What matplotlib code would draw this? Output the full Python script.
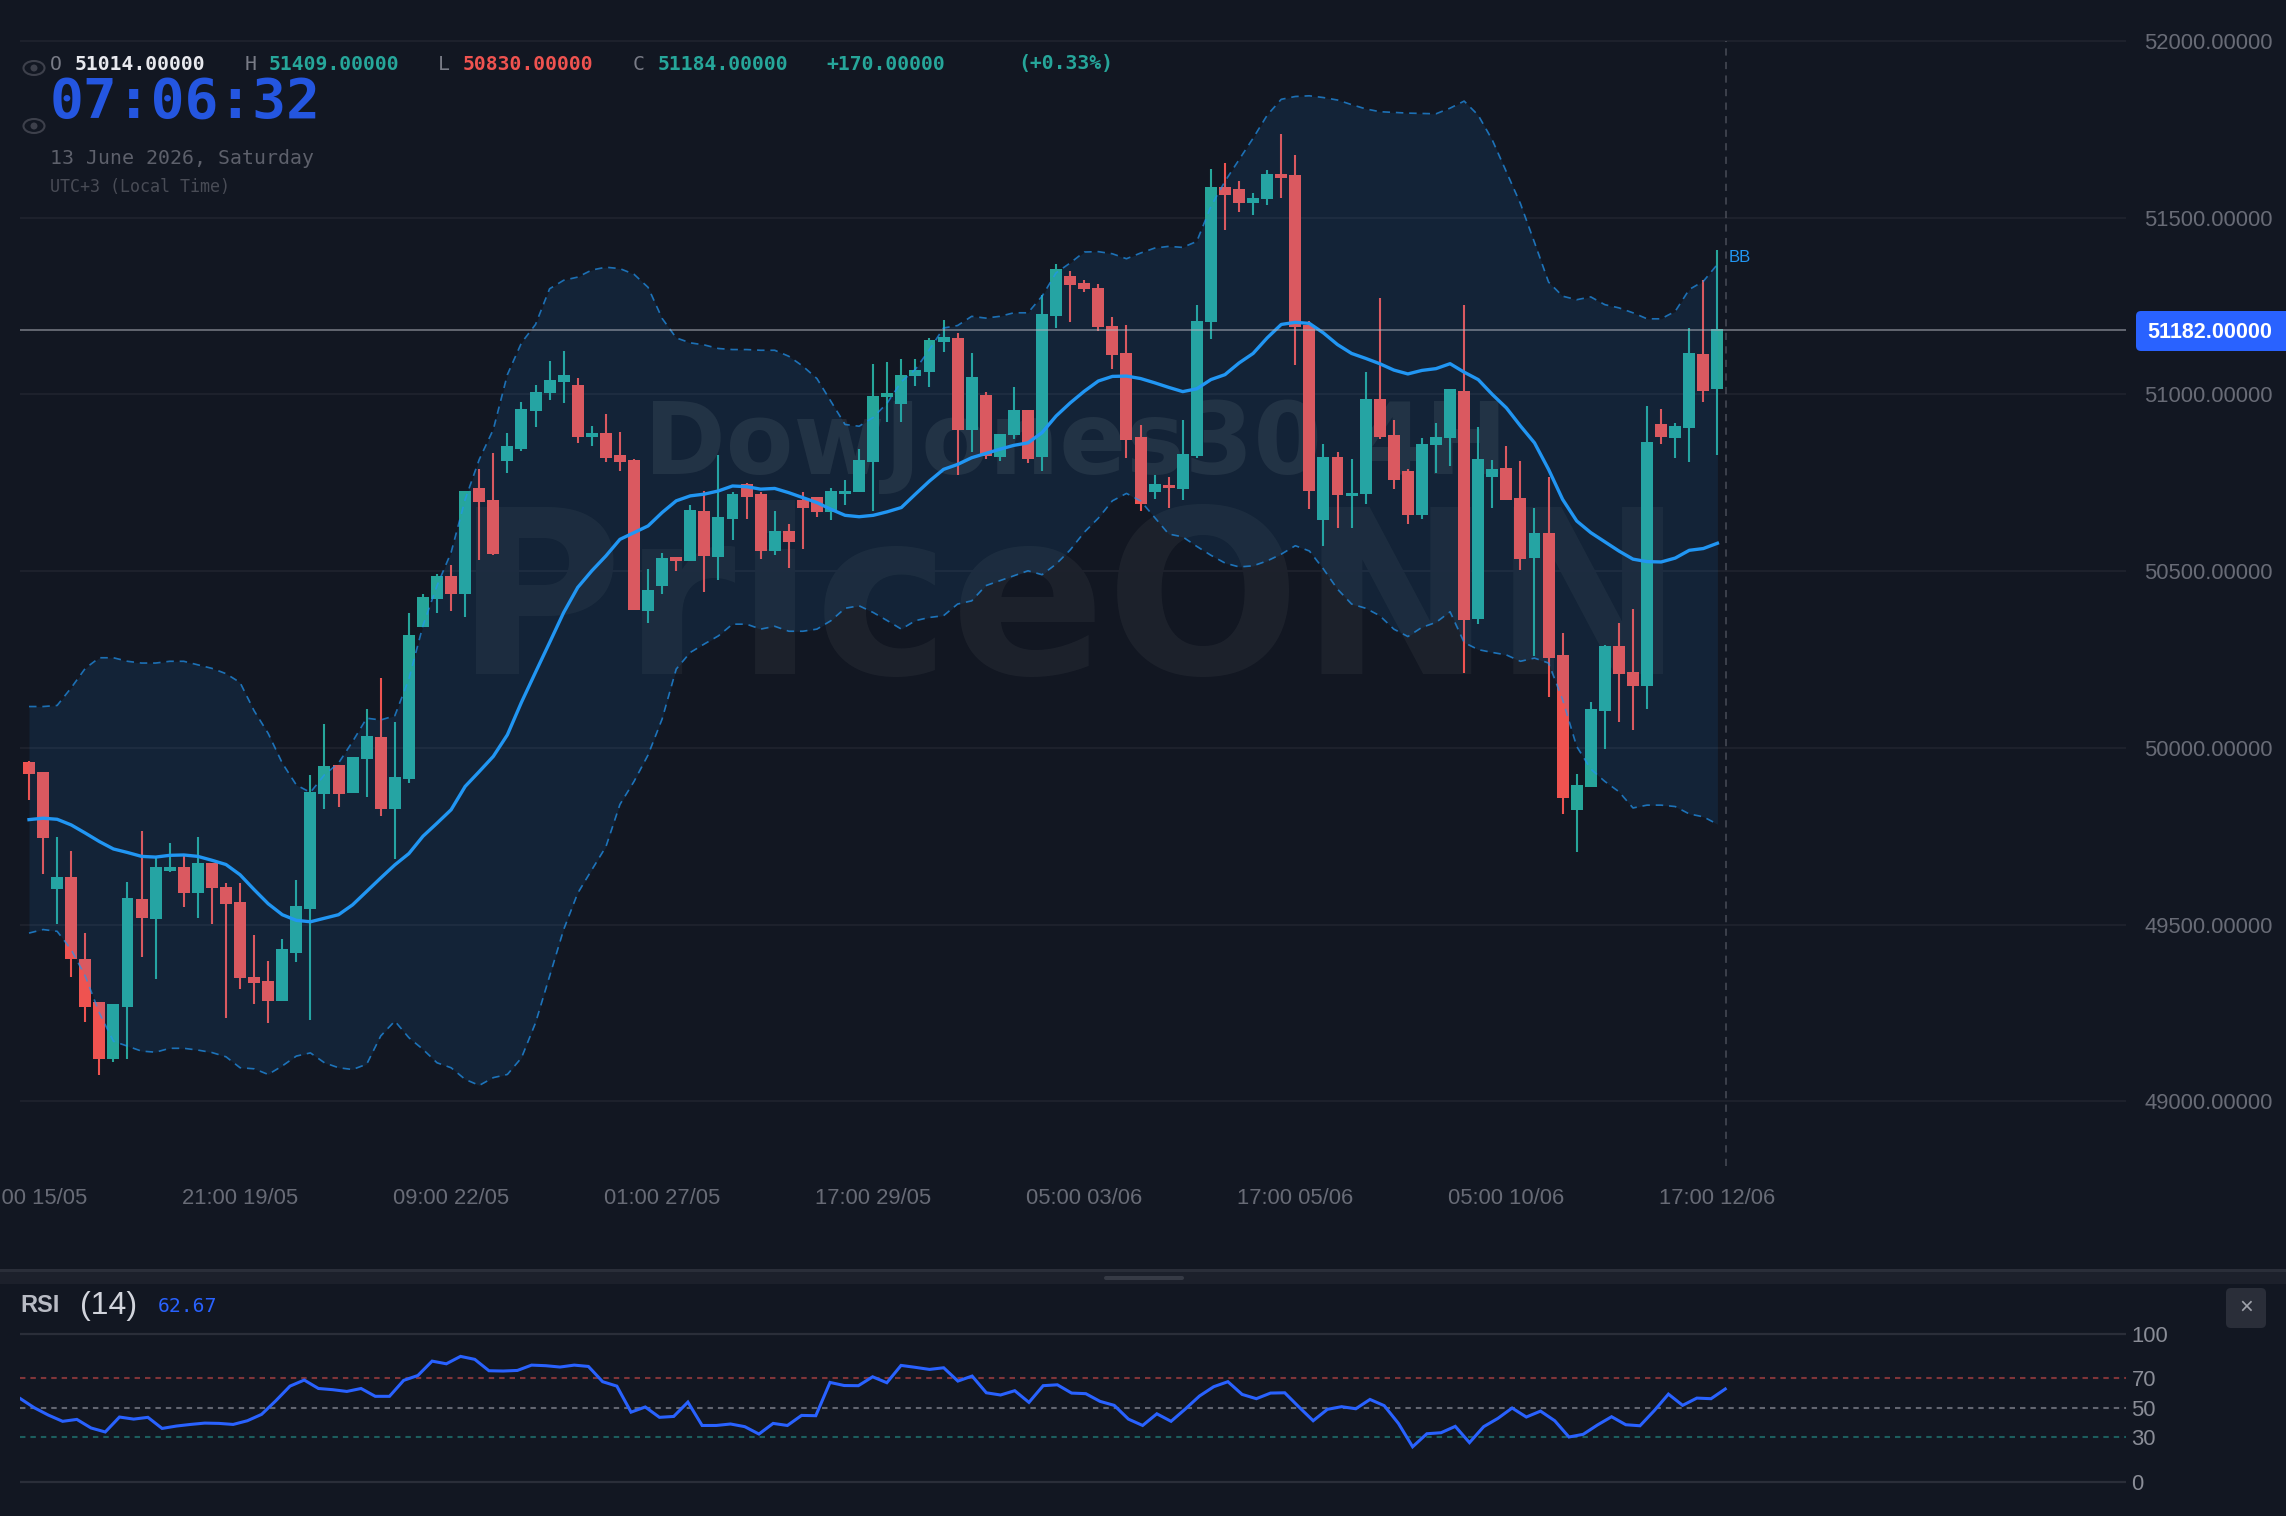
import matplotlib
matplotlib.use('Agg')
import numpy as np
import matplotlib.pyplot as plt
from matplotlib.patches import Ellipse, FancyBboxPatch, Rectangle

opens = [49959,49933,49602,49634,49403,49282,49120,49268,49572,49517,
         49652,49663,49589,49673,49607,49564,49351,49341,49283,49421,
         49545,49870,49952,49871,49968,50031,49828,49911,50343,50421,
         50485,50434,50734,50702,50811,50846,50954,51003,51036,51028,
         50879,50890,50828,50814,50388,50459,50540,50529,50671,50541,
         50647,50746,50718,50557,50613,50701,50711,50668,50718,50723,
         50809,50992,50973,51051,51063,51149,51161,50899,50997,50822,
         50884,50955,50823,51223,51336,51315,51301,51195,51118,50879,
         50723,50744,50733,50826,51204,51588,51580,51543,51552,51624,
         51622,51196,50644,50823,50712,50718,50988,50884,50782,50660,
         50856,50876,51011,50366,50766,50792,50708,50536,50607,50262,
         49823,49889,50104,50288,50216,50176,50916,50877,50905,51114,
         51014]
highs = [49964,49933,49747,49708,49476,49282,49274,49621,49766,49695,
         49730,49695,49749,49673,49618,49618,49470,49397,49460,49627,
         49924,50067,49952,49974,50111,50197,50072,50381,50434,50493,
         50517,50728,50788,50835,50890,50978,51027,51096,51124,51046,
         50911,50944,50895,50816,50506,50550,50540,50687,50728,50828,
         50725,50750,50723,50669,50634,50724,50711,50736,50757,50845,
         51087,51091,51099,51099,51159,51212,51174,51118,51008,50887,
         51022,50955,51281,51369,51350,51325,51312,51220,51197,50914,
         50773,50767,50929,51254,51637,51656,51604,51570,51636,51737,
         51678,51208,50859,50836,50816,51063,51273,50927,50788,50878,
         50920,51016,51254,50908,50815,50853,50811,50678,50766,50325,
         49926,50131,50292,50354,50394,50966,50960,50919,51187,51325,
         51409]
lows = [49853,49644,49501,49351,49224,49074,49112,49119,49408,49347,
        49648,49550,49518,49501,49237,49319,49275,49222,49283,49394,
        49230,49826,49832,49871,49861,49806,49686,49900,50343,50383,
        50388,50369,50532,50547,50779,50841,50907,50983,50976,50862,
        50854,50808,50783,50390,50353,50434,50501,50529,50441,50476,
        50588,50647,50534,50547,50510,50564,50654,50644,50686,50723,
        50670,50921,50923,51024,51021,51120,50771,50837,50818,50811,
        50873,50805,50782,51187,51206,51291,51179,51073,50820,50670,
        50705,50678,50700,50820,51156,51466,51516,51507,51536,51557,
        51083,50675,50572,50621,50621,50690,50873,50733,50633,50648,
        50778,50798,50211,50350,50679,50701,50504,50261,50144,49813,
        49706,49889,49998,50073,50050,50111,50859,50821,50810,50978,
        50830]
closes = [49927,49744,49634,49403,49268,49121,49274,49576,49520,49663,
          49663,49588,49674,49603,49557,49350,49334,49283,49431,49552,
          49874,49948,49870,49974,50034,49828,49919,50319,50427,50485,
          50434,50728,50695,50548,50853,50960,51008,51042,51055,50880,
          50891,50820,50809,50390,50446,50538,50528,50673,50542,50654,
          50718,50711,50558,50613,50582,50679,50668,50728,50728,50815,
          50996,51004,51056,51069,51153,51163,50899,51050,50826,50887,
          50956,50817,51228,51354,51309,51298,51190,51111,50872,50689,
          50746,50734,50832,51207,51588,51563,51542,51556,51624,51613,
          51192,50728,50822,50715,50722,50988,50880,50758,50659,50860,
          50880,51016,50363,50818,50789,50702,50534,50609,50254,49858,
          49894,50109,50289,50210,50175,50865,50879,50910,51118,51010,
          51184]

bb_upper = [50117,50117,50120,50170,50225,50255,50255,50245,50240,50240,
            50245,50245,50235,50225,50210,50185,50105,50041,49957,49895,
            49874,49924,49957,50018,50084,50079,50091,50195,50346,50459,
            50553,50703,50816,50901,51056,51146,51198,51299,51323,51332,
            51352,51360,51356,51340,51303,51215,51160,51146,51140,51130,
            51127,51127,51125,51125,51108,51080,51045,50980,50915,50910,
            50935,50976,51036,51071,51127,51188,51195,51221,51216,51221,
            51231,51231,51278,51344,51372,51403,51404,51398,51384,51400,
            51414,51419,51416,51433,51532,51603,51664,51725,51790,51835,
            51843,51845,51840,51833,51820,51808,51800,51798,51796,51795,
            51794,51810,51830,51790,51720,51630,51540,51430,51318,51278,
            51268,51276,51254,51245,51231,51214,51214,51235,51297,51320,
            51368]
bb_mid = [49797,49801,49798,49782,49759,49735,49714,49704,49693,49691,
          49696,49697,49693,49682,49670,49641,49599,49559,49528,49512,
          49508,49518,49528,49556,49594,49632,49669,49701,49750,49787,
          49825,49891,49933,49976,50037,50129,50214,50298,50383,50454,
          50501,50543,50590,50609,50628,50666,50699,50713,50718,50727,
          50741,50739,50732,50734,50722,50708,50694,50675,50658,50654,
          50658,50668,50680,50718,50755,50788,50802,50821,50833,50845,
          50856,50863,50892,50939,50976,51009,51038,51051,51052,51045,
          51033,51020,51008,51016,51042,51056,51089,51116,51160,51198,
          51204,51201,51174,51141,51116,51102,51087,51069,51058,51068,
          51073,51087,51063,51042,51000,50962,50911,50863,50788,50703,
          50642,50609,50583,50557,50534,50527,50526,50537,50559,50564,
          50579]
bb_lower = [49476,49486,49481,49429,49354,49250,49170,49156,49142,49139,
            49150,49150,49145,49138,49126,49095,49092,49076,49100,49128,
            49137,49109,49095,49090,49105,49185,49227,49180,49147,49109,
            49095,49062,49045,49067,49076,49123,49222,49354,49486,49589,
            49655,49720,49840,49905,49980,50082,50223,50270,50294,50317,
            50350,50350,50336,50344,50330,50330,50336,50360,50395,50402,
            50383,50360,50336,50360,50369,50374,50407,50416,50459,50473,
            50487,50501,50490,50520,50560,50610,50650,50699,50720,50699,
            50652,50605,50597,50570,50545,50523,50512,50515,50529,50548,
            50572,50557,50506,50449,50407,50395,50374,50336,50315,50341,
            50355,50385,50298,50278,50270,50263,50245,50254,50240,50136,
            50004,49940,49905,49876,49830,49838,49838,49834,49813,49805,
            49784]

rsi = [56.3,50.0,45.0,40.8,42.1,36.3,33.6,43.7,42.3,43.5,
       36.0,37.6,38.7,39.6,39.4,38.7,41.2,45.5,54.7,64.6,
       68.7,63.0,62.2,61.0,63.0,57.7,57.7,68.5,71.8,81.5,
       79.7,84.7,82.7,75.0,74.8,75.2,78.8,78.4,77.5,78.8,
       77.9,67.6,64.6,47.0,50.5,43.5,44.1,53.8,38.0,38.0,
       39.0,37.2,32.2,39.4,38.0,44.8,44.6,67.1,65.0,64.9,
       70.9,66.9,78.6,77.3,75.9,77.0,68.0,71.4,60.1,58.6,
       61.5,53.6,64.9,65.5,59.9,59.5,54.3,51.6,42.3,38.0,
       45.9,40.8,49.1,57.9,64.2,67.6,59.0,56.1,59.9,60.1,
       50.5,41.2,48.9,50.7,49.3,55.6,51.4,39.4,23.6,32.4,
       33.1,37.4,26.4,37.2,42.8,49.8,43.7,47.7,41.2,30.2,
       32.0,38.3,43.9,38.5,37.8,48.0,59.2,51.6,56.5,56.1,
       62.67]

price_ticks = [49000,49500,50000,50500,51000,51500,52000]
time_idx = [0,15,30,45,60,75,90,105,120]
time_labels = ['17:00 15/05','21:00 19/05','09:00 22/05','01:00 27/05','17:00 29/05',
               '05:00 03/06','17:00 05/06','05:00 10/06','17:00 12/06']
rsi_ticks = [0,30,50,70,100]
last_price = 51182
crosshair_idx = 120.6

BG = '#121722'
GRID = '#1e222d'
UP = '#26a69a'
DOWN = '#ef5350'
BLUE = '#2962ff'
BB = '#2196f3'
TICK = '#787b86'
SANS = 'Liberation Sans'
MONO = 'DejaVu Sans Mono'
W, H = 2286, 1516

fig = plt.figure(figsize=(W/100, H/100), dpi=100, facecolor=BG)


def pixel_axes(left, top, width, height, **kw):
    # axes placed by pixel box, top-left origin
    return fig.add_axes([left/W, 1-(top+height)/H, width/W, height/H], **kw)


# full-size layers for the watermark and for the window furniture
back = pixel_axes(0, 0, W, H, zorder=0)
back.set_xlim(0, W)
back.set_ylim(H, 0)
back.axis('off')
back.text(644, 474, 'DowJones30 4H', color='white', alpha=0.075, fontsize=71, fontweight='bold',
          family='DejaVu Sans', ha='left', va='baseline')
back.text(455, 674, 'PriceONN', color='white', alpha=0.045, fontsize=165, fontweight='bold',
          family='DejaVu Sans', ha='left', va='baseline')

# price pane
ax = pixel_axes(20, 0, 2106, 1166, zorder=1)
ax.patch.set_alpha(0)
ax.set_xlim(-0.64, 149.04)
ax.set_ylim(48817, 52116)

idx = np.arange(len(closes))
o = np.array(opens)
c = np.array(closes)
colors = [UP if c[i] >= o[i] else DOWN for i in idx]
ax.vlines(idx, lows, highs, colors=colors, lw=1.5, zorder=2)
ax.bar(idx, np.maximum(c, o)-np.minimum(c, o), bottom=np.minimum(c, o), width=0.85, color=colors, zorder=2)

ax.fill_between(idx, bb_lower, bb_upper, color=BB, alpha=0.1, lw=0, zorder=3)
ax.plot(idx, bb_upper, color=BB, alpha=0.7, lw=1.2, dashes=(4.5, 3.5), zorder=4)
ax.plot(idx, bb_lower, color=BB, alpha=0.7, lw=1.2, dashes=(4.5, 3.5), zorder=4)
ax.plot(idx, bb_mid, color=BB, lw=2.4, zorder=5)
ax.text(120.8, 51388, 'BB', color=BB, fontsize=12, family=SANS, va='center', ha='left', zorder=6)

ax.axhline(last_price, color='#b2b5be', alpha=0.5, lw=1.4, zorder=6)
ax.vlines(crosshair_idx, 48817, 52000, color='#787b86', alpha=0.45, lw=1.3, linestyles=(0, (4, 3.5)), zorder=6)

ax.set_yticks(price_ticks)
ax.set_yticklabels(['%.5f' % p for p in price_ticks])
ax.yaxis.tick_right()
ax.set_xticks(time_idx)
ax.set_xticklabels(time_labels)
ax.tick_params(axis='y', length=0, pad=13, labelsize=15.8, labelcolor=TICK)
ax.tick_params(axis='x', length=0, pad=16, labelsize=15.8, labelcolor=TICK)
for t in ax.get_xticklabels()+ax.get_yticklabels():
    t.set_family(SANS)
    t.set_alpha(0.85)
ax.grid(axis='y', color=GRID, lw=1.4, zorder=1)
ax.set_axisbelow(True)
for s in ax.spines.values():
    s.set_visible(False)

# RSI pane
ax2 = pixel_axes(20, 1320, 2106, 196, zorder=1)
ax2.patch.set_alpha(0)
ax2.set_xlim(0, 148.2)
ax2.set_ylim(-23.2, 109.3)
ax2.axhline(100, color='#2a2e39', lw=1.6)
ax2.axhline(0, color='#2a2e39', lw=1.6)
ax2.axhline(70, color=DOWN, alpha=0.5, lw=1.5, linestyle=(0, (2.6, 2.4)))
ax2.axhline(50, color=TICK, alpha=0.8, lw=1.5, linestyle=(0, (2.6, 2.4)))
ax2.axhline(30, color=UP, alpha=0.5, lw=1.5, linestyle=(0, (2.6, 2.4)))
ax2.plot(idx, rsi, color=BLUE, lw=2.2, solid_joinstyle='miter')
ax2.set_yticks(rsi_ticks)
ax2.set_yticklabels([str(v) for v in rsi_ticks])
ax2.yaxis.tick_right()
ax2.set_xticks([])
ax2.tick_params(axis='y', length=0, pad=4, labelsize=15.8, labelcolor='#8a8d97')
for t in ax2.get_yticklabels():
    t.set_family(SANS)
for s in ax2.spines.values():
    s.set_visible(False)

# overlay: legend header, price badge, pane divider, close button
front = pixel_axes(0, 0, W, H, zorder=5)
front.set_xlim(0, W)
front.set_ylim(H, 0)
front.axis('off')

header = [(50, 'O', TICK), (75, '51014.00000', '#e8e9ee'),
          (245, 'H', TICK), (269, '51409.00000', UP),
          (438, 'L', TICK), (463, '50830.00000', DOWN),
          (633, 'C', TICK), (658, '51184.00000', UP),
          (826, '+170.00000', UP), (1018, '(+0.33%)', UP)]
for x, s, col in header:
    front.text(x, 64, s, color=col, fontsize=14.2, family=MONO, va='center', ha='left',
               fontweight='normal' if len(s) == 1 else 'bold')
front.text(50, 102, '07:06:32', color='#2456e0', fontsize=40.5, family=MONO, fontweight='bold', va='center', ha='left')
front.text(50, 158, '13 June 2026, Saturday', color='#5d606b', fontsize=14.3, family=MONO, va='center', ha='left')
front.text(50, 187, 'UTC+3 (Local Time)', color='#494c56', fontsize=12, family=MONO, va='center', ha='left')

for y in (68, 126):
    front.add_patch(Ellipse((34, y), 21, 14, fc='none', ec='#3d404b', lw=1.5))
    front.add_patch(Ellipse((34, y), 7, 7, fc='#3d404b', ec='none'))

front.add_patch(FancyBboxPatch((2136, 311), 165, 40, boxstyle='round,pad=0,rounding_size=5',
                               fc=BLUE, ec='none'))
front.text(2147, 332, '%.5f' % last_price, color='white', fontsize=15.5, fontweight='bold', family=SANS,
           va='center', ha='left')

front.add_patch(Rectangle((0, 1269), W, 3, fc='#2a2e39', ec='none'))
front.add_patch(Rectangle((0, 1272), W, 12, fc='#1c202b', ec='none'))
front.add_patch(FancyBboxPatch((1104, 1276), 80, 4, boxstyle='round,pad=0,rounding_size=2', fc='#363a45', ec='none'))

front.text(20, 1306, 'RSI', color='#b8bbc4', fontsize=17, fontweight='bold', family=SANS, va='center', ha='left')
front.text(80, 1306, '(14)', color='#d1d4dc', fontsize=23, family=SANS, va='center', ha='left')
front.text(158, 1307, '62.67', color=BLUE, fontsize=14.2, family=MONO, va='center', ha='left')

front.add_patch(FancyBboxPatch((2226, 1288), 40, 40, boxstyle='round,pad=0,rounding_size=5', fc='#2a2e39', ec='none'))
front.text(2246, 1308, '\u00d7', color='#a0a3ac', fontsize=17, family=SANS, va='center', ha='center')

fig.savefig('out.png', dpi=100, facecolor=BG)
